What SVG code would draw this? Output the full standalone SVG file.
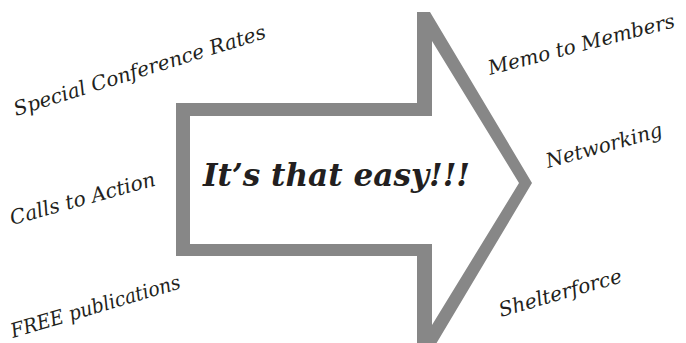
<svg xmlns="http://www.w3.org/2000/svg" width="686" height="343" viewBox="0 0 686 343">
<style>
.lbl{font-family:"DejaVu Serif","Liberation Serif",serif;font-style:italic;font-size:20px;fill:#231f20}
.main{font-family:"DejaVu Serif","Liberation Serif",serif;font-style:italic;font-weight:bold;font-size:32px;fill:#231f20}
.arrow{fill:#878787;fill-rule:evenodd}
</style>
<rect width="686" height="343" fill="#fff"/>
<g id="arrow">
<path class="arrow" d="M176,103 H417 V12 H430 L532,183 L436.6,343 H417 V256 H176 Z M190,116 H432 V41 L519,183 L432,325 V244 H190 Z"/>
<text class="main" x="203" y="186" textLength="267" lengthAdjust="spacingAndGlyphs">It’s that easy!!!</text>
</g>
<g id="special-conference-rates"><text class="lbl" transform="translate(16,116) rotate(-17.3)" textLength="263" lengthAdjust="spacingAndGlyphs">Special Conference Rates</text></g>
<g id="calls-to-action"><text class="lbl" transform="translate(12,225) rotate(-15.4)" textLength="150" lengthAdjust="spacingAndGlyphs">Calls to Action</text></g>
<g id="free-publications"><text class="lbl" transform="translate(13,338) rotate(-16.5)" textLength="176" lengthAdjust="spacingAndGlyphs">FREE publications</text></g>
<g id="memo-to-members"><text class="lbl" transform="translate(490,75) rotate(-14.5)" textLength="192" lengthAdjust="spacingAndGlyphs">Memo to Members</text></g>
<g id="networking"><text class="lbl" transform="translate(548,168) rotate(-15.5)" textLength="120" lengthAdjust="spacingAndGlyphs">Networking</text></g>
<g id="shelterforce"><text class="lbl" transform="translate(501,317) rotate(-16)" textLength="127" lengthAdjust="spacingAndGlyphs">Shelterforce</text></g>
<g id="connectors"/>
</svg>
